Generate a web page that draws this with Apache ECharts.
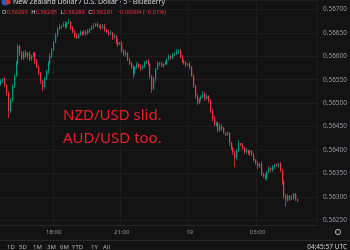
<!DOCTYPE html>
<html><head><meta charset="utf-8">
<script src="https://cdn.jsdelivr.net/npm/echarts@6/dist/echarts.min.js"></script>
<style>html,body{margin:0;padding:0;background:#131313;overflow:hidden}#c{width:350px;height:250px;}</style>
</head><body><div id="c"></div>
<script>
// 5-minute slots from 15:40 (last 10 are empty right margin)
const slotCount = 168;
const times = [];
for (let i = 0; i < slotCount; i++) {
  const m = (15 * 60 + 40 + 5 * i) % 1440;
  times.push(String(Math.floor(m / 60)).padStart(2, '0') + ':' + String(m % 60).padStart(2, '0'));
}
const xTickTimes = ['18:00', '21:00', '00:00', '03:00'];
const xTickLabels = ['18:00', '21:00', '19', '03:00'];

// prices in points of 0.00001
const opens = [
 56540,56547,56551,56539,56522,56484,56505,56537,56558,56585,
 56621,56606,56596,56610,56600,56606,56593,56600,56606,56589,
 56577,56564,56547,56534,56551,56568,56585,56600,56614,56631,
 56646,56659,56663,56665,56669,56663,56671,56674,56661,56652,
 56644,56640,56646,56652,56648,56652,56648,56655,56659,56663,
 56665,56669,56665,56663,56661,56665,56657,56652,56648,56650,
 56640,56643,56631,56625,56628,56612,56604,56608,56593,56585,
 56577,56564,56577,56583,56577,56574,56579,56585,56589,56583,
 56558,56530,56551,56572,56585,56583,56579,56583,56585,56593,
 56600,56596,56604,56606,56610,56612,56598,56589,56585,56581,
 56583,56577,56558,56537,56515,56501,56509,56513,56520,56509,
 56515,56505,56484,56467,56454,56458,56442,56452,56446,56437,
 56433,56436,56414,56404,56395,56382,56399,56414,56410,56404,
 56395,56399,56393,56397,56389,56378,56372,56366,56370,56349,
 56344,56340,56353,56361,56357,56363,56368,56366,56370,56357,
 56332,56304,56294,56302,56296,56298,56306,56295
];
const closes = [
 56547,56551,56539,56522,56484,56505,56537,56558,56585,56621,
 56606,56596,56610,56600,56606,56593,56600,56606,56589,56577,
 56564,56547,56534,56551,56568,56585,56600,56614,56631,56646,
 56659,56663,56665,56669,56663,56671,56674,56661,56652,56644,
 56640,56646,56652,56648,56652,56648,56655,56659,56663,56665,
 56669,56665,56663,56661,56665,56657,56652,56648,56650,56640,
 56643,56631,56625,56628,56612,56604,56608,56593,56585,56577,
 56564,56577,56583,56577,56574,56579,56585,56589,56583,56558,
 56530,56551,56572,56585,56583,56579,56583,56585,56593,56600,
 56596,56604,56606,56610,56612,56598,56589,56585,56581,56583,
 56577,56558,56537,56515,56501,56509,56513,56520,56509,56515,
 56505,56484,56467,56454,56458,56442,56452,56446,56437,56433,
 56436,56414,56404,56395,56382,56399,56414,56410,56404,56395,
 56399,56393,56397,56389,56378,56372,56366,56370,56349,56344,
 56340,56353,56361,56357,56363,56368,56366,56370,56357,56332,
 56304,56294,56302,56296,56298,56306,56295,56291
];
const wickUp = [
 4,3,5,2,4,6,3,5,4,6, 3,5,2,4,3,6,2,4,3,5, 4,2,3,5,3,4,6,3,2,4,
 3,5,2,4,6,3,6,2,4,3, 5,3,4,2,5,3,4,2,3,5, 3,4,2,5,3,4,2,3,5,2,
 4,3,5,2,4,3,5,2,4,3, 5,2,4,3,6,2,4,3,5,2, 3,5,2,4,3,5,2,4,3,5,
 2,4,3,5,4,3,5,2,4,3, 5,3,4,2,5,3,4,6,3,5, 2,4,3,5,2,4,6,3,4,2,
 5,3,4,2,6,3,7,2,4,3, 5,2,4,3,5,2,4,3,6,2, 4,3,5,2,4,3,5,2,4,3,
 5,2,4,3,5,2,3,0
];
const wickDn = [
 3,5,4,6,15,4,3,5,2,4, 5,3,4,2,5,3,4,2,5,3, 4,6,8,3,2,5,3,4,2,3,
 4,2,5,3,4,2,3,5,3,4, 4,3,2,5,3,4,2,5,3,4, 2,5,3,4,2,5,3,4,2,5,
 3,4,5,2,4,3,5,4,3,5, 11,3,4,2,5,3,4,2,4,6, 8,3,5,2,4,3,5,2,4,3,
 5,2,4,3,5,2,4,3,5,2, 4,3,5,6,4,3,5,2,4,3, 5,4,6,3,5,4,3,5,2,4,
 3,5,4,6,19,3,4,2,5,3, 4,3,5,2,4,3,6,4,5,3, 4,3,2,5,3,4,2,5,3,6,
 8,15,4,5,3,4,3,2
];
const rangeButtons = ['1D', '5D', '1M', '3M', '6M', 'YTD', '1Y', 'All'];
const rangeButtonX = [7, 19, 33, 47, 60, 72, 91, 103];
const titleText = 'New Zealand Dollar / U.S. Dollar · 5 · Blueberry';
const noteLines = ['NZD/USD slid.', 'AUD/USD too.'];
const clockText = '04:45:57 UTC';

const UP = '#089981', DOWN = '#f23645';
const P = 100000;
// [index, open, close, low, high]
const candleData = opens.map((o, i) => {
  const c = closes[i];
  return [i, o / P, c / P, (Math.min(o, c) - wickDn[i]) / P, (Math.max(o, c) + wickUp[i]) / P];
});
const n = closes.length - 1;
const lastClose = closes[n] / P;
const chg = (closes[n] - closes[n - 1]) / P;
const pct = chg / (closes[n - 1] / P) * 100;
const fmt = v => v.toFixed(5);
const ohlcText = '{l|O}{v|' + fmt(candleData[n][1]) + '} {l|H}{v|' + fmt(candleData[n][4]) +
  '} {l|L}{v|' + fmt(candleData[n][3]) + '} {l|C}{v|' + fmt(candleData[n][2]) + '} {v|' +
  (chg < 0 ? '\u2212' : '+') + fmt(Math.abs(chg)) + ' (' + (chg < 0 ? '\u2212' : '+') + Math.abs(pct).toFixed(2) + '%)}';

function renderCandle(params, api) {
  const i = api.value(0);
  const o = api.coord([i, api.value(1)]);
  const c = api.coord([i, api.value(2)]);
  const lo = api.coord([i, api.value(3)]);
  const hi = api.coord([i, api.value(4)]);
  const px = Math.floor(o[0]);
  const col = api.value(2) >= api.value(1) ? UP : DOWN;
  const top = Math.round(Math.min(o[1], c[1]));
  const h = Math.max(Math.round(Math.abs(o[1] - c[1])), 1);
  const wt = Math.round(hi[1]), wb = Math.round(lo[1]);
  return {type: 'group', children: [
    {type: 'rect', shape: {x: px, y: wt, width: 1, height: Math.max(wb - wt, 1)}, style: {fill: col, opacity: 0.75}},
    {type: 'rect', shape: {x: px, y: top, width: 1, height: h}, style: {fill: col}},
    {type: 'rect', shape: {x: px + 1, y: top, width: 0.5, height: h}, style: {fill: col, opacity: 0.5}}
  ]};
}

const isTick = (idx) => xTickTimes.indexOf(times[idx]) >= 0;
const axisGrey = '#9598a1';
const chart = echarts.init(document.getElementById('c'), null, {renderer: 'canvas'});
const graphics = [
  {type: 'rect', shape: {x: 0, y: 240, width: 350, height: 10}, style: {fill: '#131313'}, z: 20},
  {type: 'line', shape: {x1: 0, y1: 240.5, x2: 350, y2: 240.5}, style: {stroke: '#2a2a2a', lineWidth: 1}, z: 21},
  {type: 'circle', shape: {cx: 5, cy: 2, r: 3.5}, style: {fill: '#2f5fb3'}, z: 21},
  {type: 'circle', shape: {cx: 8, cy: 2, r: 2.5}, style: {fill: '#c8313e'}, z: 21},
  {type: 'text', style: {x: 13, y: 2, text: titleText, font: '7px "Noto Sans"', fill: '#d1d4dc', verticalAlign: 'middle'}, z: 21},
  {type: 'text', style: {x: 2, y: 12.5, text: ohlcText, verticalAlign: 'middle',
     rich: {l: {font: '5.8px "Noto Sans"', fill: '#d1d4dc'}, v: {font: '5.8px "Noto Sans"', fill: '#f23645'}}}, z: 21},
  {type: 'text', style: {x: 63, y: 116, text: noteLines[0], font: '15px "Noto Sans"', fill: '#ea1f2b', verticalAlign: 'middle'}, z: 21},
  {type: 'text', style: {x: 63, y: 139, text: noteLines[1], font: '15px "Noto Sans"', fill: '#ea1f2b', verticalAlign: 'middle'}, z: 21},
  {type: 'text', style: {x: 347, y: 247, text: clockText, font: '6.5px "Noto Sans"', fill: '#d1d4dc', align: 'right', verticalAlign: 'middle'}, z: 22},
  {type: 'circle', shape: {cx: 338, cy: 232, r: 2.6}, style: {fill: 'none', stroke: '#b2b5be', lineWidth: 1}, z: 21}
];
rangeButtons.forEach((t, i) => graphics.push({type: 'text', style: {x: rangeButtonX[i], y: 247.5, text: t,
  font: '6px "Noto Sans"', fill: '#b2b5be', verticalAlign: 'middle'}, z: 22}));

chart.setOption({
  animation: false,
  backgroundColor: '#131313',
  grid: {left: 0, right: 28, top: 0, bottom: 25, containLabel: false},
  xAxis: {
    type: 'category', data: times, boundaryGap: true,
    axisLine: {show: true, lineStyle: {color: '#262626'}},
    axisTick: {show: false},
    axisLabel: {color: axisGrey, fontSize: 6, fontFamily: 'Noto Sans', margin: 4,
      interval: (idx) => isTick(idx),
      formatter: (v) => { const k = xTickTimes.indexOf(v); return k >= 0 ? xTickLabels[k] : ''; }},
    splitLine: {show: true, interval: (idx) => isTick(idx), lineStyle: {color: '#1e1e1e', width: 1}}
  },
  yAxis: {
    type: 'value', position: 'right', min: 0.5624, max: 0.5672, splitNumber: 10, scale: true,
    axisLine: {show: false}, axisTick: {show: false},
    axisLabel: {color: axisGrey, fontSize: 6.5, fontFamily: 'Noto Sans', margin: 6,
      showMinLabel: false, showMaxLabel: false, formatter: (v) => v.toFixed(5)},
    splitLine: {show: true, lineStyle: {color: '#1e1e1e', width: 1}}
  },
  graphic: graphics,
  series: [{
    type: 'custom', data: candleData, renderItem: renderCandle,
    encode: {x: 0, y: [1, 2, 3, 4]}, clip: true,
    markLine: {
      silent: true, symbol: ['none', 'none'], animation: false,
      lineStyle: {color: '#f23645', type: [1, 2], width: 1, opacity: 0.8},
      label: {show: true, position: 'end', formatter: () => fmt(lastClose), color: '#ffffff',
        backgroundColor: '#f23645', fontSize: 6.5, fontFamily: 'Noto Sans', padding: [1.5, 2, 1, 2], distance: 1},
      data: [{yAxis: lastClose}]
    }
  }]
});
</script></body></html>
